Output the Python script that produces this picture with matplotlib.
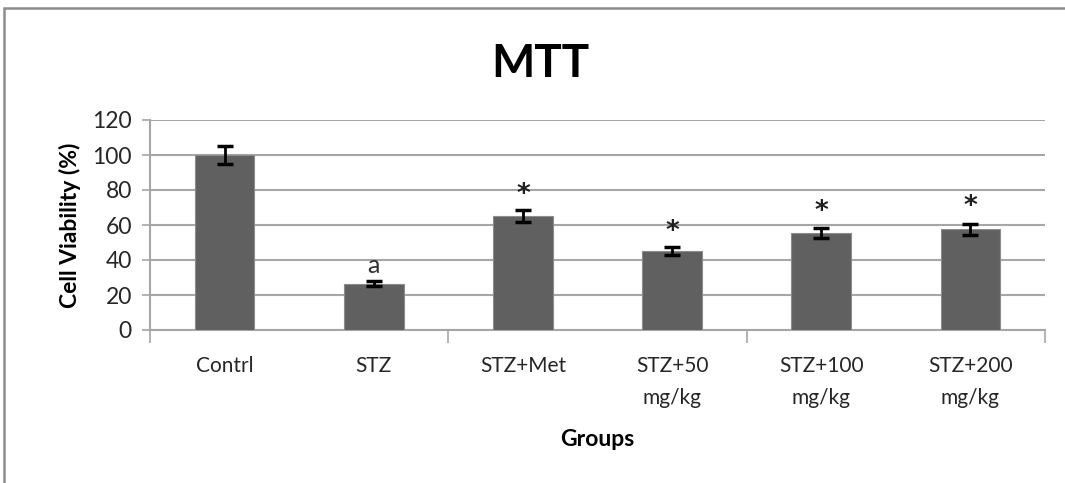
import matplotlib.pyplot as plt
from matplotlib.patches import Rectangle
from matplotlib.ticker import FixedLocator

# ── Data ──────────────────────────────────────────────────────────────────────
groups = ["Contrl", "STZ", "STZ+Met", "STZ+50\nmg/kg", "STZ+100\nmg/kg", "STZ+200\nmg/kg"]
viability = [100.0, 26.5, 65.0, 45.0, 55.5, 57.5]
errors = [5.0, 1.3, 3.5, 2.4, 3.0, 3.2]
marks = ["", "a", "*", "*", "*", "*"]
mark_y = [None, 37, 81, 60, 71.5, 74.5]

BAR = "#606060"
GRID = "#a6a6a6"
FONT = ["Lato", "DejaVu Sans"]

plt.rcParams["font.family"] = FONT

fig = plt.figure(figsize=(10.65, 4.83), dpi=100)
ax = fig.add_axes([150 / 1065, 1 - 330 / 483, 895 / 1065, 210 / 483])

x = list(range(len(groups)))
ax.bar(x, viability, width=0.4, color=BAR, edgecolor="#8c8c8c", linewidth=0.8, zorder=3)
ax.errorbar(x, viability, yerr=errors, fmt="none", ecolor="black",
            elinewidth=2, capsize=6, capthick=2.5, zorder=4)

for xi, m, my in zip(x, marks, mark_y):
    if m == "*":
        ax.text(xi, my - 4, m, ha="center", va="center", fontsize=19,
                family="DejaVu Sans", fontweight="bold", color="#202020", zorder=5)
    elif m:
        ax.text(xi, my, m, ha="center", va="center", fontsize=18,
                color="#303030", zorder=5)

ax.set_xlim(-0.5, len(groups) - 0.5)
ax.set_ylim(0, 120)
ax.set_yticks(range(0, 121, 20))
ax.yaxis.grid(True, color=GRID, linewidth=1.5, zorder=0)
ax.tick_params(axis="y", length=6, width=1.2, color=GRID, labelsize=16.5,
               labelcolor="#262626", pad=7)

ax.set_xticks(x)
ax.set_xticklabels(groups, fontsize=15, linespacing=1.75, color="#262626")
ax.tick_params(axis="x", which="major", length=0, pad=19)
ax.xaxis.set_minor_locator(FixedLocator([-0.5, 1.5, 3.5, 5.5]))
ax.tick_params(axis="x", which="minor", length=9, width=1.2, color=GRID)

for side in ["top", "right"]:
    ax.spines[side].set_visible(False)
for side in ["left", "bottom"]:
    ax.spines[side].set_color(GRID)
    ax.spines[side].set_linewidth(1.5)

ax.set_ylabel("Cell Viability (%)", fontsize=16.5, fontweight="bold", labelpad=8)
fig.text(597 / 1065, 1 - 440 / 483, "Groups", ha="center", va="center",
         fontsize=16.5, fontweight="bold")
fig.text(540 / 1065, 1 - 64 / 483, "MTT", ha="center", va="center",
         fontsize=33, fontweight="bold")

# chart-area border (cropped at right and bottom)
fig.patches.append(Rectangle((4 / 1065, -0.1), 1.2, 1 - 8 / 483 + 0.1,
                             transform=fig.transFigure, fill=False,
                             edgecolor="#8c8c8c", linewidth=1.8))

fig.savefig("out.png", dpi=100)
